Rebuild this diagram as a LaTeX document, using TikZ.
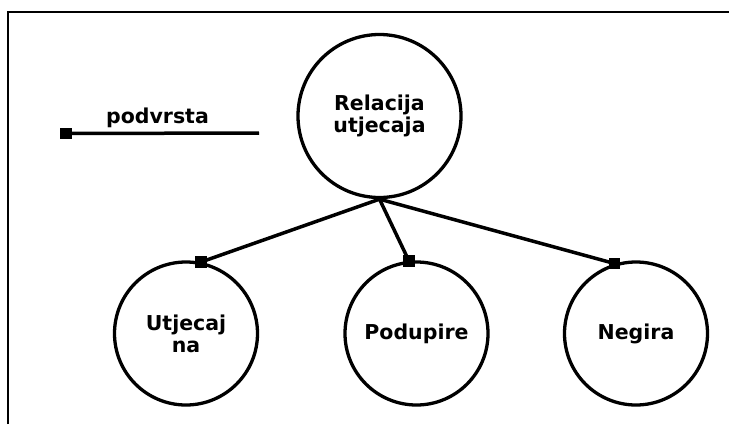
\documentclass[tikz,border=0pt]{standalone}
\usepackage{fontspec}
\setmainfont{DejaVu Sans}
\begin{document}
\begin{tikzpicture}[x=1pt,y=-1pt,
  lbl/.style={font=\bfseries\fontsize{20.5}{22}\selectfont, align=center},
  bigcirc/.style={circle, draw, line width=3.3pt, minimum size=163pt, inner sep=0pt, lbl},
  smallcirc/.style={circle, draw, line width=3.3pt, minimum size=143pt, inner sep=0pt, lbl},
  sq/.style={rectangle, fill=black, minimum size=11.5pt, inner sep=0pt},
  conn/.style={line width=3.5pt},
  frame/.style={line width=2pt}]
\useasboundingbox (0,0) rectangle (729,424);
\draw[frame] (8,424) -- (8,12) -- (729,12);
% legend
\node[sq] (lsq) at (66,133.5) {};
\coordinate (lend) at (259,133);
\draw[conn] (lsq.center) -- (lend);
\node[lbl, anchor=base] (ltext) at (157.5,123) {podvrsta};
% nodes
\node[bigcirc] (p) at (379.5,116) {Relacija\\utjecaja};
\node[smallcirc] (c1) at (186,333.5) {Utjecaj\\na};
\node[smallcirc] (c2) at (416.5,333.5) {Podupire};
\node[smallcirc] (c3) at (636,333.5) {Negira};
\node[sq] (s1) at (c1.78) {};
\node[sq] (s2) at (c2.96) {};
\node[sq] (s3) at (c3.107) {};
\draw[conn] (p.south) -- (s1.center);
\draw[conn] (p.south) -- (s2.center);
\draw[conn] (p.south) -- (s3.center);
\end{tikzpicture}
\end{document}
